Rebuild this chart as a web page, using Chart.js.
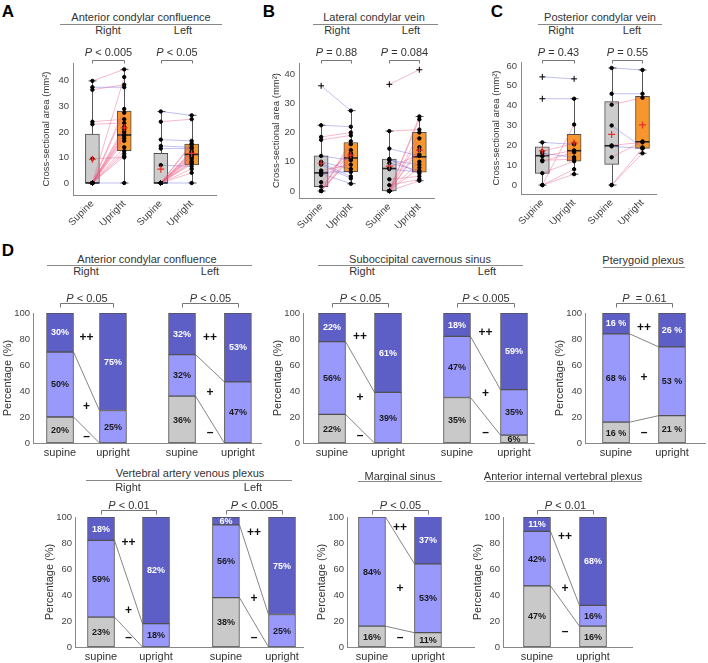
<!DOCTYPE html>
<html lang="en">
<head>
<meta charset="UTF-8">
<title>Venous cross-sectional area and grading, supine vs upright</title>
<script src="https://cdn.jsdelivr.net/npm/chart.js"></script>
<style>
    body {
        margin: 0;
        background: #fff;
        overflow: hidden;
        font-family: "Liberation Sans", Arial, sans-serif;
        color: #333;
    }
    #fig {
        position: relative;
        width: 708px;
        height: 663px;
        overflow: hidden;
    }
    #fig canvas { position: absolute; }
    .t {
        position: absolute;
        transform: translate(-50%, -50%);
        line-height: 1;
        white-space: nowrap;
    }
    .rule {
        position: absolute;
        height: 0;
        border-top: 1px solid #888;
    }
</style>
</head>
<body>
<div id="fig"></div>
<script>
    // ---- A-C: cross-sectional area (mm²), one value per subject, supine -> upright ----
    const boxNames = ['Supine', 'Upright', 'Supine', 'Upright'];

    const acRightSupine  = [40, 37.5, 36.5, 24, 23, 9.5, 0, 0, 0, 0, 0, 0, 0, 0, 0, 0, 0, 0, 0, 0, 0];
    const acRightUpright = [44.5, 37.5, 38.5, 25, 23.5, 10, 41.5, 29, 27.5, 22, 21, 20, 19, 18.5, 17.5, 16.5, 14, 12.5, 11.5, 10.5, 0];
    const acLeftSupine   = [28, 24, 17, 14.5, 13.5, 7, 0, 0, 0, 0, 0, 0, 0, 0, 0, 0, 0, 0, 0, 0, 0];
    const acLeftUpright  = [26.5, 25, 16.5, 14, 13.5, 6.5, 15.5, 15, 12.5, 12, 11.5, 11, 10.5, 10, 9.5, 8.5, 8, 7.5, 5.5, 4, 0];
    const acQ1   = [0, 12.7, 0, 7.1];
    const acMed  = [0, 18.8, 0, 11.2];
    const acQ3   = [19.2, 28.2, 11.6, 15.2];
    const acMean = [9.3, 21.6, 5.4, 11.6];
    const acP    = [' < 0.005', ' < 0.05'];

    const lcRightSupine  = [36, 22.5, 18.5, 17.5, 12, 10, 9.5, 9, 7, 6.5, 6, 5.5, 3, 1.5, 0, 0, 0, 0, 0];
    const lcRightUpright = [27.5, 22, 20, 19, 10.5, 7.5, 5, 4.3, 9, 6.5, 2.5, 12, 14, 13, 17, 16, 11.5, 12.5, 11];
    const lcLeftSupine   = [36.5, 20.5, 14.5, 11, 10.5, 9.5, 8, 7.5, 4, 2, 0, 0, 0, 0, 0, 0, 0, 0, 0];
    const lcLeftUpright  = [41.5, 21, 12, 6, 9, 7, 12.5, 6.5, 5, 4, 25.5, 24.5, 20, 15, 14, 10, 8, 3.5, 18];
    const lcQ1   = [1.5, 6.6, 0, 6.4];
    const lcMed  = [6.2, 11.3, 7.7, 11.7];
    const lcQ3   = [12, 16.6, 10.9, 20.1];
    const lcMean = [9.5, 12.3, 8.5, 14];
    const lcP    = [' = 0.88', ' = 0.084'];

    const pcRightSupine  = [54.5, 43.5, 21.5, 17, 16, 14.5, 12.5, 12, 6, 0, 0, 0];
    const pcRightUpright = [53.5, 43.5, 20.5, 21, 14, 17.5, 13, 16.5, 12, 30.5, 8, 5.5];
    const pcLeftSupine   = [59, 46, 40.5, 30, 20, 19.5, 14, 0, 0];
    const pcLeftUpright  = [58, 46, 44, 19, 21.5, 18.5, 22, 18.5, 16];
    const pcQ1   = [5.9, 12.1, 10.4, 18.5];
    const pcMed  = [14.8, 17.3, 19.8, 21.8];
    const pcQ3   = [19.3, 25.5, 42, 44.7];
    const pcMean = [17.3, 21.3, 25.5, 30.3];
    const pcP    = [' = 0.43', ' = 0.55'];

    // ---- D: grading in % (− / + / ++), bars in order supine, upright (right then left) ----
    const accMinus = [20, 0, 36, 0],  accPlus = [50, 25, 32, 47], accPlusPlus = [30, 75, 32, 53];
    const scsMinus = [22, 0, 35, 6],  scsPlus = [56, 39, 47, 35], scsPlusPlus = [22, 61, 18, 59];
    const ptgMinus = [16, 21],        ptgPlus = [68, 53],         ptgPlusPlus = [16, 26];
    const vavMinus = [23, 0, 38, 0],  vavPlus = [59, 18, 56, 25], vavPlusPlus = [18, 82, 6, 75];
    const marMinus = [16, 11],        marPlus = [84, 53],         marPlusPlus = [0, 37];
    const aivMinus = [47, 16],        aivPlus = [42, 16],         aivPlusPlus = [11, 68];
    const accDP = [' < 0.05', ' < 0.05'];
    const scsDP = [' < 0.05', ' < 0.005'];
    const ptgDP = ['  = 0.61'];
    const vavDP = [' < 0.01', ' < 0.005'];
    const marDP = [' < 0.05'];
    const aivDP = [' < 0.01'];

    // ---- look ----
    const FONT = '"Liberation Sans", Arial, sans-serif';
    const GREY = '#c9c9c9', LIGHT = '#9999fc', DARK = '#5d5fc6';
    const ORANGE = '#f7962d', BOXGREY = '#cccccc';
    const PINK = 'rgba(232, 80, 125, 0.5)', BLUE = 'rgba(95, 95, 225, 0.5)';

    Chart.defaults.font.family = FONT;
    Chart.defaults.color = '#333';
    Chart.defaults.animation = false;
    Chart.defaults.plugins.legend.display = false;
    Chart.defaults.plugins.tooltip.enabled = false;

    const fig = document.getElementById('fig');

    function makeCanvas(left, top, w, h) {
        const c = document.createElement('canvas');
        c.width = w; c.height = h;
        c.style.left = left + 'px'; c.style.top = top + 'px';
        c.style.width = w + 'px'; c.style.height = h + 'px';
        fig.appendChild(c);
        return c;
    }

    function drawP(ctx, label, cx, cy) {
        const it = 'italic 11px ' + FONT, rg = '11px ' + FONT;
        ctx.font = it; const w1 = ctx.measureText('P').width;
        ctx.font = rg; const w2 = ctx.measureText(label).width;
        const x0 = cx - (w1 + w2) / 2;
        ctx.fillStyle = '#333'; ctx.textAlign = 'left'; ctx.textBaseline = 'middle';
        ctx.font = it; ctx.fillText('P', x0, cy);
        ctx.font = rg; ctx.fillText(label, x0 + w1, cy);
    }

    function drawBrackets(chart, xs, labels, rise, leg, gap) {
        const {ctx, chartArea} = chart;
        const x = chart.scales.x;
        const top = Math.round(chartArea.top - rise) + 0.5;
        ctx.save();
        ctx.strokeStyle = '#777'; ctx.lineWidth = 1;
        labels.forEach((lab, i) => {
            const xa = Math.round(x.getPixelForValue(xs[2 * i])) + 0.5;
            const xb = Math.round(x.getPixelForValue(xs[2 * i + 1])) + 0.5;
            ctx.beginPath();
            ctx.moveTo(xa, top + leg); ctx.lineTo(xa, top); ctx.lineTo(xb, top); ctx.lineTo(xb, top + leg);
            ctx.stroke();
            drawP(ctx, lab, (xa + xb) / 2, top - gap);
        });
        ctx.restore();
    }

    // box plot with paired lines (A-C)
    function boxChart(g) {
        const cv = makeCanvas(g.left, g.top, g.width, g.height);
        const groups = g.groups;
        const fences = groups.map((v, k) => {
            const iqr = g.q3[k] - g.q1[k];
            return [g.q1[k] - 1.5 * iqr, g.q3[k] + 1.5 * iqr];
        });
        const whisk = groups.map((vals, k) => {
            const ins = vals.filter(v => v >= fences[k][0] && v <= fences[k][1]);
            return [Math.min(...ins), Math.max(...ins)];
        });
        const pts = [];
        groups.forEach((vals, k) => vals.forEach(v => pts.push({
            x: g.pos[k], y: v, out: v < fences[k][0] || v > fences[k][1]
        })));
        const links = [];
        [[0, 1], [2, 3]].forEach(([a, b]) => groups[a].forEach((v, i) => {
            links.push({x: g.pos[a], y: v}, {x: g.pos[b], y: groups[b][i]}, {x: g.pos[b], y: null});
        }));

        const deco = {
            id: 'boxDeco',
            beforeDatasetsDraw(chart) {
                const {ctx, scales: {x, y}} = chart;
                ctx.save();
                ctx.strokeStyle = '#555'; ctx.lineWidth = 1;
                g.pos.forEach((p, k) => {
                    const px = Math.round(x.getPixelForValue(p)) + 0.5;
                    const hi = y.getPixelForValue(whisk[k][1]), lo = y.getPixelForValue(whisk[k][0]);
                    ctx.beginPath();
                    ctx.moveTo(px, y.getPixelForValue(g.q3[k])); ctx.lineTo(px, hi);
                    ctx.moveTo(px, y.getPixelForValue(g.q1[k])); ctx.lineTo(px, lo);
                    ctx.moveTo(px - 4, hi); ctx.lineTo(px + 4, hi);
                    ctx.moveTo(px - 4, lo); ctx.lineTo(px + 4, lo);
                    ctx.stroke();
                });
                ctx.restore();
            },
            afterDatasetDraw(chart, args) {
                if (args.index !== 0) return;
                const {ctx, scales: {y}} = chart;
                ctx.save();
                ctx.strokeStyle = '#222'; ctx.lineWidth = 1.6;
                chart.getDatasetMeta(0).data.forEach((el, k) => {
                    const py = y.getPixelForValue(g.med[k]);
                    ctx.beginPath();
                    ctx.moveTo(el.x - el.width / 2, py); ctx.lineTo(el.x + el.width / 2, py);
                    ctx.stroke();
                });
                ctx.restore();
            },
            afterDatasetsDraw(chart) {
                drawBrackets(chart, g.pos, g.p, g.rise, 3, 8);
            }
        };

        new Chart(cv, {
            type: 'bar',
            data: {
                datasets: [
                    {
                        type: 'bar',
                        data: g.pos.map((p, k) => ({x: p, y: [g.q1[k], g.q3[k]]})),
                        backgroundColor: [BOXGREY, ORANGE, BOXGREY, ORANGE],
                        borderColor: '#4d4d4d', borderWidth: 1, borderSkipped: false,
                        barThickness: 14, order: 3
                    },
                    {
                        type: 'line', data: links, borderColor: PINK, borderWidth: 0.8,
                        pointRadius: 0, spanGaps: false, fill: false,
                        segment: { borderColor: c => c.p1.parsed.y > c.p0.parsed.y ? PINK : BLUE },
                        order: 2
                    },
                    {
                        type: 'scatter', data: pts,
                        pointStyle: c => (c.raw && c.raw.out) ? 'cross' : 'circle',
                        pointRadius: c => (c.raw && c.raw.out) ? 3 : 1.7,
                        backgroundColor: '#000', borderColor: '#000', borderWidth: 1, order: 1
                    },
                    {
                        type: 'scatter', data: g.pos.map((p, k) => ({x: p, y: g.mean[k]})),
                        pointStyle: 'cross', pointRadius: 3.5, borderColor: '#e6322b',
                        borderWidth: 1.2, order: 0
                    }
                ]
            },
            options: {
                responsive: false,
                layout: { padding: { top: g.padTop, left: 0, right: 0, bottom: 0 } },
                scales: {
                    x: {
                        type: 'linear', min: 0, max: g.max, offset: false,
                        grid: { display: false, drawTicks: false },
                        border: { color: '#888' },
                        afterBuildTicks: s => { s.ticks = g.pos.map(v => ({value: v})); },
                        afterFit: s => { s.height = 30; },
                        ticks: {
                            autoSkip: false, minRotation: 45, maxRotation: 45, padding: 3,
                            font: { size: 10 }, color: '#444',
                            callback: (v, i) => boxNames[i]
                        }
                    },
                    y: {
                        min: g.ymin, max: g.ymax,
                        grid: { display: false, drawTicks: false },
                        border: { color: '#888' },
                        afterBuildTicks: s => { s.ticks = g.yticks.map(v => ({value: v})); },
                        afterFit: s => { s.width = g.yW; },
                        ticks: { padding: 4, font: { size: 9.5 }, color: '#444' },
                        title: { display: true, text: 'Cross-sectional area (mm²)', font: { size: 9.5 }, padding: 0, color: '#333' }
                    }
                }
            },
            plugins: [deco]
        });
    }

    // stacked percentage bars (D)
    function stackChart(g) {
        const cv = makeCanvas(g.left, g.top, g.width, g.height);
        const cats = g.pos.map((p, i) => i % 2 ? 'upright' : 'supine');
        const sets = [g.minus, g.plus, g.plus2];
        const mk = (vals, color) => ({
            data: vals.map((v, i) => ({x: g.pos[i], y: v})),
            backgroundColor: color, borderColor: '#505050', borderWidth: 1,
            borderSkipped: false, barThickness: 27, stack: 's'
        });
        const deco = {
            id: 'stackDeco',
            afterDatasetsDraw(chart) {
                const {ctx, scales: {x, y}} = chart;
                const metas = [0, 1, 2].map(i => chart.getDatasetMeta(i));
                ctx.save();
                ctx.strokeStyle = '#666'; ctx.lineWidth = 0.8;
                for (let a = 0; a < g.pos.length; a += 2) {
                    for (let k = 0; k < 2; k++) {
                        const ea = metas[k].data[a], eb = metas[k].data[a + 1];
                        ctx.beginPath();
                        ctx.moveTo(ea.x + ea.width / 2, ea.y);
                        ctx.lineTo(eb.x - eb.width / 2, eb.y);
                        ctx.stroke();
                    }
                }
                ctx.textAlign = 'center'; ctx.textBaseline = 'middle';
                ctx.font = 'bold 9px ' + FONT;
                sets.forEach((vals, k) => vals.forEach((v, i) => {
                    if (!v) return;
                    const el = metas[k].data[i];
                    ctx.fillStyle = k === 2 ? '#fff' : '#1a1a1a';
                    ctx.fillText(v + g.sep + '%', el.x, (el.y + el.base) / 2 + 0.5);
                }));
                ctx.fillStyle = '#111';
                ctx.font = 'bold 12px ' + FONT;
                g.marks.forEach((m, p) => {
                    const mx = (x.getPixelForValue(g.pos[2 * p]) + x.getPixelForValue(g.pos[2 * p + 1])) / 2;
                    ['++', '+', '–'].forEach((s, j) => ctx.fillText(s, mx, y.getPixelForValue(m[j])));
                });
                ctx.restore();
                drawBrackets(chart, g.pos, g.p, g.rise, 4, 5);
            }
        };
        new Chart(cv, {
            type: 'bar',
            data: { datasets: [mk(g.minus, GREY), mk(g.plus, LIGHT), mk(g.plus2, DARK)] },
            options: {
                responsive: false,
                layout: { padding: { top: 25, left: 0, right: 0, bottom: 0 } },
                scales: {
                    x: {
                        type: 'linear', min: 0, max: g.max, offset: false,
                        grid: { display: false, drawTicks: false },
                        border: { color: '#888' },
                        afterBuildTicks: s => { s.ticks = g.pos.map(v => ({value: v})); },
                        afterFit: s => { s.height = 20; },
                        ticks: {
                            autoSkip: false, minRotation: 0, maxRotation: 0, padding: 3,
                            font: { size: 11 }, color: '#333',
                            callback: (v, i) => cats[i]
                        }
                    },
                    y: {
                        min: 0, max: 100, stacked: true,
                        grid: { display: false, drawTicks: false },
                        border: { color: '#888' },
                        afterBuildTicks: s => { s.ticks = [0, 20, 40, 60, 80, 100].map(v => ({value: v})); },
                        afterFit: s => { s.width = 32; },
                        ticks: { padding: 3, font: { size: 9.5 }, color: '#444' },
                        title: { display: true, text: 'Percentage (%)', font: { size: 11 }, padding: 0, color: '#333' }
                    }
                }
            },
            plugins: [deco]
        });
    }

    // ---- panels A, B, C ----
    boxChart({ left: 41, top: 38, width: 181, height: 187, yW: 32, padTop: 25, rise: 3,
        pos: [0.61, 1.61, 2.76, 3.73], max: 4.52, ymin: -4.7, ymax: 47, yticks: [0, 10, 20, 30, 40],
        groups: [acRightSupine, acRightUpright, acLeftSupine, acLeftUpright],
        q1: acQ1, med: acMed, q3: acQ3, mean: acMean, p: acP });
    boxChart({ left: 271, top: 38, width: 169, height: 190, yW: 28, padTop: 25, rise: 3,
        pos: [0.73, 1.71, 2.98, 3.97], max: 4.48, ymin: -2.4, ymax: 43.8, yticks: [0, 10, 20, 30, 40],
        groups: [lcRightSupine, lcRightUpright, lcLeftSupine, lcLeftUpright],
        q1: lcQ1, med: lcMed, q3: lcQ3, mean: lcMean, p: lcP });
    boxChart({ left: 491, top: 38, width: 171, height: 186, yW: 30, padTop: 24, rise: 2,
        pos: [0.67, 1.67, 2.85, 3.82], max: 4.27, ymin: -4.5, ymax: 62, yticks: [0, 10, 20, 30, 40, 50, 60],
        groups: [pcRightSupine, pcRightUpright, pcLeftSupine, pcLeftUpright],
        q1: pcQ1, med: pcMed, q3: pcQ3, mean: pcMean, p: pcP });

    // ---- panel D ----
    stackChart({ left: 1, top: 288, width: 261, height: 175, rise: 10, sep: '',
        pos: [0.505, 1.495, 2.785, 3.83], max: 4.28,
        minus: accMinus, plus: accPlus, plus2: accPlusPlus, p: accDP, marks: [[81, 28, 5], [81, 39, 8]] });
    stackChart({ left: 271, top: 288, width: 264, height: 175, rise: 10, sep: '',
        pos: [0.518, 1.518, 2.75, 3.768], max: 4.143,
        minus: scsMinus, plus: scsPlus, plus2: scsPlusPlus, p: scsDP, marks: [[82, 35, 6], [85, 38, 8]] });
    stackChart({ left: 553, top: 288, width: 153, height: 175, rise: 10, sep: ' ',
        pos: [0.554, 1.554], max: 2.161,
        minus: ptgMinus, plus: ptgPlus, plus2: ptgPlusPlus, p: ptgDP, marks: [[89, 50, 8]] });
    stackChart({ left: 43, top: 492, width: 261, height: 175, rise: 7, sep: '',
        pos: [0.473, 1.473, 2.745, 3.764], max: 4.164,
        minus: vavMinus, plus: vavPlus, plus2: vavPlusPlus, p: vavDP, marks: [[80, 28, 7], [88, 37, 7]] });
    stackChart({ left: 315, top: 492, width: 160, height: 175, rise: 7, sep: '',
        pos: [0.446, 1.446], max: 2.286,
        minus: marMinus, plus: marPlus, plus2: marPlusPlus, p: marDP, marks: [[92, 45, 7]] });
    stackChart({ left: 471, top: 492, width: 162, height: 175, rise: 7, sep: '',
        pos: [0.607, 1.607], max: 2.321,
        minus: aivMinus, plus: aivPlus, plus2: aivPlusPlus, p: aivDP, marks: [[85, 45, 12]] });

    // ---- headings ----
    const texts = [
        ['A', 8, 11, 17, true], ['B', 269, 11, 17, true], ['C', 497, 11, 17, true], ['D', 8, 250, 17, true],
        ['Anterior condylar confluence', 141, 17, 11], ['Right', 108, 30, 11], ['Left', 183, 30, 11],
        ['Lateral condylar vein', 374, 17, 11], ['Right', 337, 30, 11], ['Left', 411, 30, 11],
        ['Posterior condylar vein', 600, 17, 11], ['Right', 561, 30, 11], ['Left', 632, 30, 11],
        ['Anterior condylar confluence', 147, 259, 11], ['Right', 86, 271, 11], ['Left', 210, 271, 11],
        ['Suboccipital cavernous sinus', 420, 259, 11], ['Right', 362, 271, 11], ['Left', 487, 271, 11],
        ['Pterygoid plexus', 643, 260, 11],
        ['Vertebral artery venous plexus', 190, 473, 11], ['Right', 128, 487, 11], ['Left', 253, 487, 11],
        ['Marginal sinus', 400, 476, 11], ['Anterior internal vertebral plexus', 563, 476, 11]
    ];
    texts.forEach(([s, cx, cy, size, bold]) => {
        const d = document.createElement('div');
        d.className = 't';
        d.textContent = s;
        d.style.left = cx + 'px'; d.style.top = cy + 'px';
        d.style.fontSize = size + 'px';
        if (bold) { d.style.fontWeight = 'bold'; d.style.color = '#000'; }
        fig.appendChild(d);
    });
    const rules = [[60, 222, 24], [313, 438, 24], [538, 662, 24], [47, 252, 265], [318, 523, 265],
                   [603, 685, 267], [86, 292, 480], [358, 442, 481], [486, 642, 481]];
    rules.forEach(([x1, x2, y]) => {
        const d = document.createElement('div');
        d.className = 'rule';
        d.style.left = x1 + 'px'; d.style.width = (x2 - x1) + 'px'; d.style.top = y + 'px';
        fig.appendChild(d);
    });
</script>
</body>
</html>
